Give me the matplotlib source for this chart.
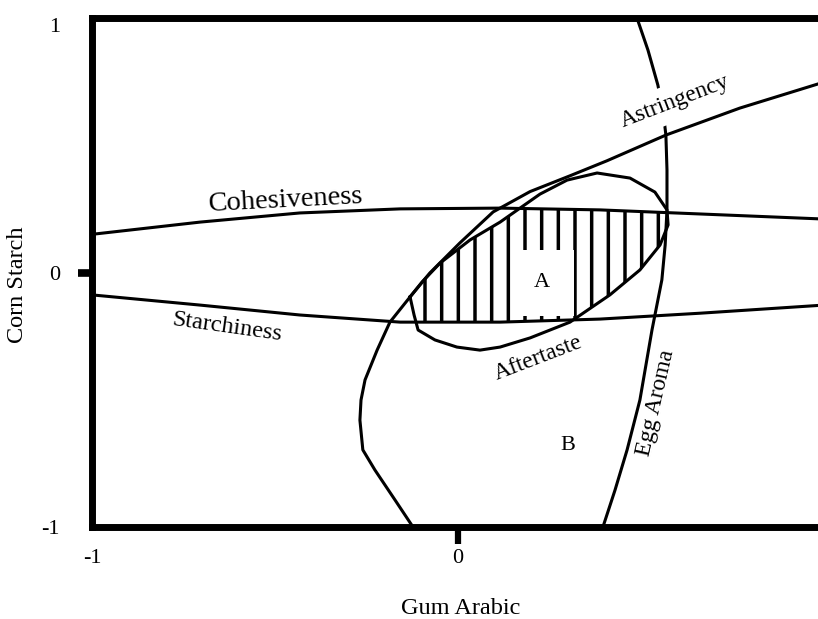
import numpy as np
import matplotlib
import matplotlib.pyplot as plt

matplotlib.use("Agg")

# contour traces (coded levels, -1 .. 1)
cohesiveness_x = [-1.0, -0.705, -0.432, -0.158, 0.115, 0.388, 0.661, 1.0]
cohesiveness_y = [0.15, 0.198, 0.234, 0.250, 0.253, 0.246, 0.230, 0.210]

starchiness_x = [-1.0, -0.705, -0.432, -0.158, 0.115, 0.388, 0.661, 1.0]
starchiness_y = [-0.088, -0.128, -0.167, -0.195, -0.195, -0.183, -0.160, -0.128]

astringency_x = [-0.123, -0.172, -0.227, -0.260, -0.268, -0.265, -0.254, -0.221,
                 -0.186, -0.131, -0.077, 0.005, 0.096, 0.197, 0.306, 0.407,
                 0.568, 0.770, 0.984]
astringency_y = [-1.0, -0.894, -0.776, -0.697, -0.580, -0.501, -0.422, -0.305,
                 -0.195, -0.096, -0.002, 0.116, 0.238, 0.318, 0.380, 0.439,
                 0.540, 0.646, 0.741]

# closed loop: left vertex, over the top, back along the bottom
aftertaste_x = [-0.131, -0.098, -0.049, 0.033, 0.115, 0.224, 0.298, 0.380, 0.470,
                0.538, 0.571, 0.574, 0.552, 0.497, 0.415, 0.306, 0.197, 0.115,
                0.060, -0.003, -0.063, -0.109, -0.120, -0.131]
aftertaste_y = [-0.096, -0.037, 0.037, 0.128, 0.198, 0.308, 0.363, 0.391, 0.371,
                0.316, 0.246, 0.187, 0.108, 0.010, -0.088, -0.195, -0.257, -0.293,
                -0.305, -0.293, -0.265, -0.226, -0.167, -0.096]

egg_aroma_x = [0.489, 0.519, 0.546, 0.560, 0.568, 0.571, 0.571, 0.566, 0.557,
               0.530, 0.497, 0.462, 0.429, 0.396]
egg_aroma_y = [1.0, 0.874, 0.737, 0.639, 0.540, 0.403, 0.246, 0.108, -0.029,
               -0.226, -0.501, -0.697, -0.855, -1.0]

tick_values = [-1, 0, 1]
tick_labels = ["-1", "0", "1"]

plt.rcParams["font.family"] = ["Liberation Serif", "DejaVu Serif"]
plt.rcParams["hatch.linewidth"] = 2.5

fig = plt.figure(figsize=(8.18, 6.19), dpi=100)
ax = fig.add_axes([92 / 818, 92 / 619, 732 / 818, 509 / 619])
ax.set_xlim(-1, 1)
ax.set_ylim(-1, 1)

LW = 2.2
ax.plot(cohesiveness_x, cohesiveness_y, color="black", lw=LW)
ax.plot(starchiness_x, starchiness_y, color="black", lw=LW)
ax.plot(astringency_x, astringency_y, color="black", lw=LW)
ax.plot(aftertaste_x, aftertaste_y, color="black", lw=LW)
ax.plot(egg_aroma_x, egg_aroma_y, color="black", lw=LW)

# region A: inside the aftertaste loop, between starchiness and cohesiveness
ax_arr = np.array(aftertaste_x)
ay_arr = np.array(aftertaste_y)
k = int(np.argmax(ax_arr))
top_x, top_y = ax_arr[:k + 1], ay_arr[:k + 1]
bot_x, bot_y = ax_arr[k:][::-1], ay_arr[k:][::-1]
xs = np.linspace(ax_arr.min(), ax_arr.max(), 400)
upper = np.minimum(np.interp(xs, top_x, top_y),
                   np.interp(xs, cohesiveness_x, cohesiveness_y))
lower = np.maximum(np.interp(xs, bot_x, bot_y),
                   np.interp(xs, starchiness_x, starchiness_y))
ax.fill_between(xs, lower, upper, where=upper > lower, facecolor="none",
                edgecolor="black", hatch="|", linewidth=0)

fs = 17
ax.text(-0.470, 0.285, "Cohesiveness", fontsize=20.5, rotation=3,
        ha="center", va="center")
ax.text(-0.631, -0.214, "Starchiness", fontsize=fs + 0.5, rotation=-8,
        ha="center", va="center")
ax.text(0.593, 0.670, "Astringency", fontsize=fs, rotation=21,
        ha="center", va="center", zorder=5,
        bbox=dict(facecolor="white", edgecolor="none", pad=6))
ax.text(0.219, -0.336, "Aftertaste", fontsize=fs, rotation=21,
        ha="center", va="center")
ax.text(0.541, -0.513, "Egg Aroma", fontsize=fs, rotation=77,
        ha="center", va="center")
ax.text(0.230, -0.041, "A", fontsize=16, ha="center", va="center", zorder=5,
        bbox=dict(facecolor="white", edgecolor="none", pad=17))
ax.text(0.301, -0.678, "B", fontsize=16, ha="center", va="center")

for side in ["left", "top", "bottom", "right"]:
    ax.spines[side].set_linewidth(5)

ax.set_xticks(tick_values)
ax.set_xticklabels(tick_labels)
ax.set_yticks(tick_values)
ax.set_yticklabels(tick_labels)
ax.tick_params(axis="x", length=12, width=4.5, pad=4, labelsize=16)
ax.tick_params(axis="y", length=10, width=5.5, pad=13, labelsize=16)
for t in ax.xaxis.get_major_ticks() + ax.yaxis.get_major_ticks():
    if t.get_loc() != 0:
        t.tick1line.set_visible(False)
# top label on the y axis sits a little lower in the original
ax.get_yticklabels()[2].set_va("top")

fig.text(461 / 818, 1 - 608 / 619, "Gum Arabic", fontsize=17.5,
         ha="center", va="center")
fig.text(18 / 818, 1 - 285 / 619, "Corn Starch", fontsize=17.5,
         rotation=90, ha="center", va="center")

fig.savefig("out.png", dpi=100)
